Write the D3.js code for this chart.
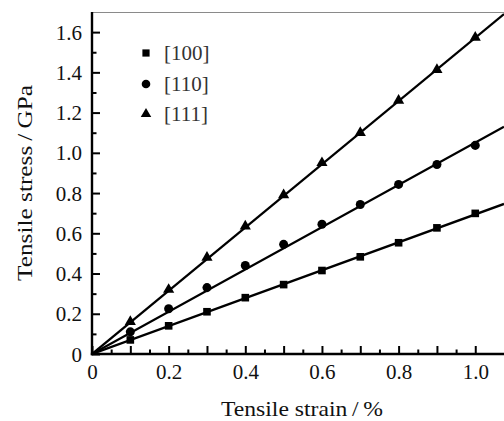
<!DOCTYPE html>
<html>
<head>
<meta charset="utf-8">
<script src="https://cdn.jsdelivr.net/npm/d3@7"></script>
<style>
  html, body { margin: 0; padding: 0; background: #fff; }
  svg { display: block; }
  svg text { font-family: "Liberation Serif", "Times New Roman", serif !important; fill: #111; }
</style>
</head>
<body>
<svg id="chart" width="504" height="421"></svg>
<script>
// Tensile strain (%) at which stress was sampled
const strain = [0.1, 0.2, 0.3, 0.4, 0.5, 0.6, 0.7, 0.8, 0.9, 1.0];

// Tensile stress (GPa) along each crystal direction
const stress100 = [0.07, 0.14, 0.21, 0.28, 0.345, 0.415, 0.483, 0.553, 0.627, 0.699];
const stress110 = [0.11, 0.225, 0.33, 0.44, 0.545, 0.645, 0.743, 0.843, 0.942, 1.037];
const stress111 = [0.16, 0.32, 0.48, 0.635, 0.79, 0.95, 1.10, 1.26, 1.413, 1.573];

// Linear fit lines (strain endpoints and fitted stress)
const fitStrain = [0, 1.075];
const fit100 = [0, 0.746];
const fit110 = [0, 1.13];
const fit111 = [0, 1.69];

const seriesNames = ["[100]", "[110]", "[111]"];

const xTickLabels = [0, 0.2, 0.4, 0.6, 0.8, 1.0];
const yTickLabels = [0, 0.2, 0.4, 0.6, 0.8, 1.0, 1.2, 1.4, 1.6];

const svg = d3.select("#chart");
const plotLeft = 92, plotRight = 504, plotTop = 12, plotBottom = 354;

const x = d3.scaleLinear().domain([0, 1.075]).range([plotLeft, plotRight]);
const y = d3.scaleLinear().domain([0, 1.7]).range([plotBottom, plotTop]);

const fmt = v => v === 0 ? "0" : d3.format(".1f")(v);

// clip for the plotting region
svg.append("clipPath").attr("id", "plot")
  .append("rect").attr("x", plotLeft).attr("y", plotTop)
  .attr("width", plotRight - plotLeft).attr("height", plotBottom - plotTop);

// top frame line
svg.append("line")
  .attr("x1", plotLeft).attr("x2", plotRight).attr("y1", plotTop + 0.5).attr("y2", plotTop + 0.5)
  .attr("stroke", "#8a8a8a").attr("stroke-width", 1.2);

// x axis: inward ticks, major every 0.1, minor every 0.05
const xMinor = d3.range(0, 21).map(i => i * 0.05).filter(v => Math.round(v * 100) % 10 !== 0);
const xMajor = d3.range(0, 11).map(i => i * 0.1);
const gx = svg.append("g").attr("transform", `translate(0,${plotBottom})`);
gx.call(d3.axisBottom(x).tickValues(xMinor).tickSize(-4.5).tickFormat(""));
gx.select(".domain").remove();
const gx2 = svg.append("g").attr("transform", `translate(0,${plotBottom})`);
gx2.call(d3.axisBottom(x).tickValues(xMajor).tickSize(-8).tickFormat(""));
gx2.select(".domain").remove();

const gxl = svg.append("g").attr("transform", `translate(0,${plotBottom})`);
gxl.call(d3.axisBottom(x).tickValues(xTickLabels).tickSize(0).tickPadding(10).tickFormat(fmt));
gxl.select(".domain").remove();
gxl.selectAll("text").attr("font-size", 21).attr("fill", "#111");

// y axis: inward ticks, major every 0.2, minor every 0.1
const yMinor = d3.range(0, 17).map(i => i * 0.1).filter(v => Math.round(v * 10) % 2 === 1);
const gy = svg.append("g").attr("transform", `translate(${plotLeft},0)`);
gy.call(d3.axisLeft(y).tickValues(yMinor).tickSize(-4.5).tickFormat(""));
gy.select(".domain").remove();
const gy2 = svg.append("g").attr("transform", `translate(${plotLeft},0)`);
gy2.call(d3.axisLeft(y).tickValues(yTickLabels).tickSize(-8).tickFormat(fmt));
gy2.select(".domain").remove();
gy2.selectAll("text").attr("font-size", 21).attr("fill", "#111")
  .attr("x", -10).attr("dy", "0.34em");
svg.selectAll("g.tick line").attr("stroke", "#000").attr("stroke-width", 2);
svg.selectAll("g").attr("font-size", 21);

// axis spines
svg.append("line").attr("x1", plotLeft).attr("x2", plotLeft).attr("y1", plotTop).attr("y2", plotBottom + 1.2)
  .attr("stroke", "#000").attr("stroke-width", 2.4);
svg.append("line").attr("x1", plotLeft - 1.2).attr("x2", plotRight).attr("y1", plotBottom).attr("y2", plotBottom)
  .attr("stroke", "#000").attr("stroke-width", 2.4);

// axis titles
svg.append("text")
  .attr("x", 302).attr("y", 416).attr("text-anchor", "middle")
  .attr("font-size", 21).attr("textLength", 162).attr("lengthAdjust", "spacingAndGlyphs")
  .text("Tensile strain\u2009/\u2009%");
svg.append("text")
  .attr("transform", "translate(32,183) rotate(-90)").attr("text-anchor", "middle")
  .attr("font-size", 21).attr("textLength", 196).attr("lengthAdjust", "spacingAndGlyphs")
  .text("Tensile stress\u2009/\u2009GPa");

// fit lines and markers
const series = [
  { name: seriesNames[0], values: stress100, fit: fit100, symbol: d3.symbolSquare, size: 58 },
  { name: seriesNames[1], values: stress110, fit: fit110, symbol: d3.symbolCircle, size: 64 },
  { name: seriesNames[2], values: stress111, fit: fit111, symbol: d3.symbolTriangle, size: 54 }
];

const line = d3.line().x(d => x(d[0])).y(d => y(d[1]));
const plot = svg.append("g").attr("clip-path", "url(#plot)");

series.forEach(s => {
  plot.append("path")
    .datum(fitStrain.map((v, i) => [v, s.fit[i]]))
    .attr("d", line)
    .attr("fill", "none").attr("stroke", "#000").attr("stroke-width", 2.3);
});

series.forEach(s => {
  svg.append("g").selectAll("path")
    .data(strain.map((v, i) => [v, s.values[i]]))
    .join("path")
    .attr("transform", d => `translate(${x(d[0])},${y(d[1])})`)
    .attr("d", d3.symbol().type(s.symbol).size(s.size))
    .attr("fill", "#000");
});

// legend
const legendY = [53, 84, 114];
series.forEach((s, i) => {
  svg.append("path")
    .attr("transform", `translate(146,${legendY[i]})`)
    .attr("d", d3.symbol().type(s.symbol).size(s.size - 6))
    .attr("fill", "#000");
  svg.append("text")
    .attr("x", 164).attr("y", legendY[i]).attr("dy", "0.35em")
    .attr("font-size", 21).style("fill", "#333")
    .text(s.name);
});
</script>
</body>
</html>
